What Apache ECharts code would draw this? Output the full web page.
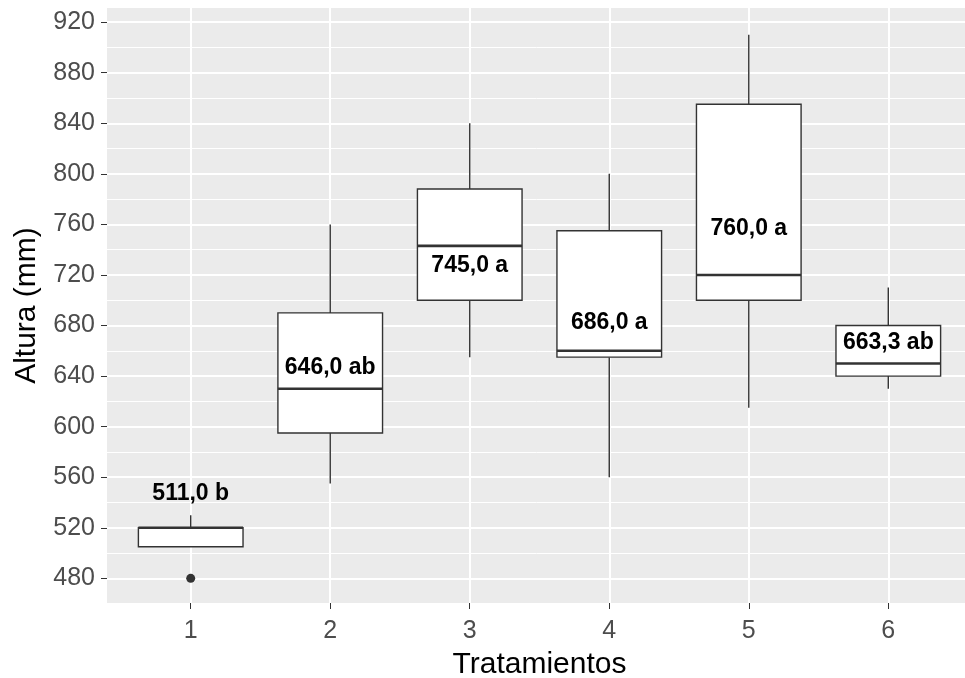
<!DOCTYPE html>
<html>
<head>
<meta charset="utf-8">
<script src="https://cdn.jsdelivr.net/npm/echarts@6/dist/echarts.min.js"></script>
<style>
html, body { margin: 0; padding: 0; background: #fff; }
#chart { width: 965px; height: 678px; }
</style>
</head>
<body>
<div id="chart"></div>
<script>
// Data
var treatments = [1, 2, 3, 4, 5, 6];
var whiskerLow = [505, 555, 655, 560, 615, 630];
var q1 = [505, 595, 700, 655, 700, 640];
var median = [520, 630, 743, 660, 720, 650];
var q3 = [520, 690, 788, 755, 855, 680];
var whiskerHigh = [530, 760, 840, 800, 910, 710];
var outlierX = [1];
var outlierY = [480];
var labelTexts = ['511,0 b', '646,0 ab', '745,0 a', '686,0 a', '760,0 a', '663,3 ab'];
var labelY = [547, 647, 727.5, 682, 756.5, 666.5];
var yMajorTicks = [480, 520, 560, 600, 640, 680, 720, 760, 800, 840, 880, 920];
var yMinorTicks = [500, 540, 580, 620, 660, 700, 740, 780, 820, 860, 900];
var xTicks = [1, 2, 3, 4, 5, 6];

var boxData = treatments.map(function (t, i) {
  return [t, whiskerLow[i], q1[i], median[i], q3[i], whiskerHigh[i]];
});
var outlierData = outlierX.map(function (x, i) { return [x, outlierY[i]]; });
var labelData = treatments.map(function (t, i) { return [t, labelY[i]]; });

var chart = echarts.init(document.getElementById('chart'), null, { renderer: 'canvas' });
var FONT = '"Liberation Sans", Arial, Helvetica, sans-serif';
var Y_MIN = 460.5, Y_MAX = 931.2;

var option = {
  animation: false,
  backgroundColor: '#ffffff',
  grid: {
    left: 107, right: -7, top: 8, bottom: 75,
    show: true, backgroundColor: '#EBEBEB', borderWidth: 0,
    containLabel: false, outerBoundsMode: 'none'
  },
  xAxis: {
    type: 'value', min: 0.4, max: 6.6,
    name: 'Tratamientos', nameLocation: 'middle', nameGap: 47,
    nameTextStyle: { fontFamily: FONT, fontSize: 30, color: '#000' },
    axisLine: { show: false },
    axisTick: { show: true, customValues: xTicks, length: 6, lineStyle: { color: '#333333', width: 1 } },
    axisLabel: { show: true, customValues: xTicks, margin: 16, fontFamily: FONT, fontSize: 25, color: '#4D4D4D' },
    splitLine: { show: true, lineStyle: { color: '#ffffff', width: 2 } }
  },
  yAxis: [{
    type: 'value', min: Y_MIN, max: Y_MAX,
    name: 'Altura (mm)', nameLocation: 'middle', nameGap: 65, nameRotate: 90,
    nameTextStyle: { fontFamily: FONT, fontSize: 30, color: '#000' },
    axisLine: { show: false },
    axisTick: { show: true, customValues: yMajorTicks, length: 6, lineStyle: { color: '#333333', width: 1 } },
    axisLabel: { show: true, customValues: yMajorTicks, margin: 12, fontFamily: FONT, fontSize: 25, color: '#4D4D4D' },
    splitLine: { show: true, lineStyle: { color: '#ffffff', width: 2 } }
  }, {
    type: 'value', min: Y_MIN, max: Y_MAX, position: 'left',
    axisLine: { show: false },
    axisTick: { show: false, customValues: yMinorTicks },
    axisLabel: { show: false, customValues: yMinorTicks },
    splitLine: { show: true, lineStyle: { color: '#ffffff', width: 1 } }
  }],
  series: [{
    type: 'custom',
    xAxisIndex: 0, yAxisIndex: 0,
    z: 3,
    encode: { x: 0, y: [1, 2, 3, 4, 5] },
    data: boxData,
    renderItem: function (params, api) {
      var x = api.value(0);
      var pLo = api.coord([x, api.value(1)]);
      var pQ1 = api.coord([x, api.value(2)]);
      var pMed = api.coord([x, api.value(3)]);
      var pQ3 = api.coord([x, api.value(4)]);
      var pHi = api.coord([x, api.value(5)]);
      var halfW = api.size([0.75, 0])[0] / 2;
      var cx = pMed[0];
      var stroke = { stroke: '#333333', lineWidth: 1.4, fill: null };
      return {
        type: 'group',
        children: [
          { type: 'line', shape: { x1: cx, y1: pLo[1], x2: cx, y2: pQ1[1] }, style: stroke },
          { type: 'line', shape: { x1: cx, y1: pQ3[1], x2: cx, y2: pHi[1] }, style: stroke },
          { type: 'rect', shape: { x: cx - halfW, y: pQ3[1], width: 2 * halfW, height: pQ1[1] - pQ3[1] },
            style: { fill: '#ffffff', stroke: '#333333', lineWidth: 1.4 } },
          { type: 'line', shape: { x1: cx - halfW, y1: pMed[1], x2: cx + halfW, y2: pMed[1] },
            style: { stroke: '#333333', lineWidth: 2.6 } }
        ]
      };
    }
  }, {
    type: 'scatter',
    z: 4,
    data: outlierData,
    symbol: 'circle',
    symbolSize: 9,
    itemStyle: { color: '#333333', opacity: 1 },
    silent: true
  }, {
    type: 'scatter',
    z: 5,
    data: labelData,
    symbolSize: 1,
    itemStyle: { color: 'rgba(0,0,0,0)', opacity: 0 },
    silent: true,
    label: {
      show: true,
      position: 'inside',
      formatter: function (p) { return labelTexts[p.dataIndex]; },
      fontFamily: FONT,
      fontWeight: 'bold',
      fontSize: 23,
      color: '#000000',
      opacity: 1,
      textBorderWidth: 0
    }
  }]
};
chart.setOption(option);
</script>
</body>
</html>
